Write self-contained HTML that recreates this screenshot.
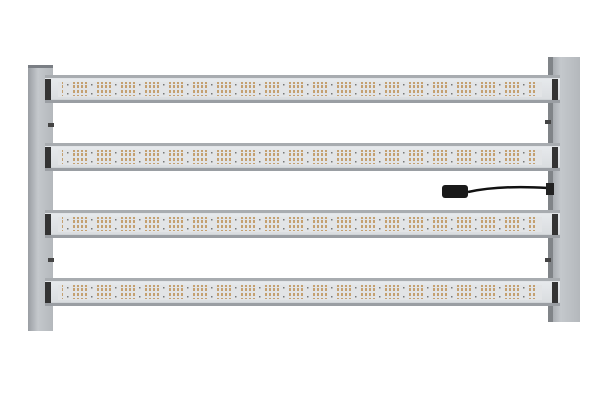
<!DOCTYPE html>
<html><head><meta charset="utf-8"><style>html,body{margin:0;padding:0;background:#fff;width:600px;height:400px;overflow:hidden}</style></head>
<body>
<svg width="600" height="400" viewBox="0 0 600 400" xmlns="http://www.w3.org/2000/svg">
<defs>
<pattern id="led" x="0" y="0" width="24" height="14" patternUnits="userSpaceOnUse">
<g fill="#c4a070">
<rect x="1" y="1" width="2" height="3"/><rect x="1" y="6" width="2" height="3"/><rect x="1" y="10" width="2" height="3"/>
<rect x="5" y="1" width="2" height="3"/><rect x="5" y="6" width="2" height="3"/><rect x="5" y="10" width="2" height="3"/>
<rect x="9" y="1" width="2" height="3"/><rect x="9" y="6" width="2" height="3"/><rect x="9" y="10" width="2" height="3"/>
<rect x="13" y="1" width="2" height="3"/><rect x="13" y="6" width="2" height="3"/><rect x="13" y="10" width="2" height="3"/>
</g>
<rect x="19" y="4" width="1.5" height="1.5" fill="#777"/><rect x="19" y="9" width="1.5" height="1.5" fill="#777"/>
</pattern>
<linearGradient id="bar" x1="0" y1="0" x2="0" y2="1">
<stop offset="0" stop-color="#c8ccd0"/><stop offset="0.15" stop-color="#e6e9ec"/>
<stop offset="0.85" stop-color="#dadde0"/><stop offset="1" stop-color="#a0a5aa"/>
</linearGradient>
<linearGradient id="rail" x1="0" y1="0" x2="1" y2="0">
<stop offset="0" stop-color="#9a9ea3"/><stop offset="0.4" stop-color="#c4c8cc"/><stop offset="1" stop-color="#b4b8bc"/>
</linearGradient>
<g id="b">
<rect x="45" y="0" width="515" height="28" fill="url(#bar)"/>
<rect x="45" y="0" width="515" height="3" fill="#a8acb0"/>
<rect x="45" y="25" width="515" height="3" fill="#9a9ea3"/>
<rect x="45" y="4" width="6" height="21" fill="#333"/>
<rect x="552" y="4" width="6" height="21" fill="#333"/>
<rect x="58" y="7" width="484" height="15" fill="#e2e4e6"/>
<rect x="62" y="7" width="474" height="14" fill="url(#led)"/>
</g>
</defs>
<rect width="600" height="400" fill="#fff"/>
<rect x="28" y="65" width="25" height="266" fill="url(#rail)"/>
<rect x="28" y="65" width="25" height="3" fill="#7a7e84"/>
<rect x="548" y="57" width="32" height="265" fill="url(#rail)"/>
<rect x="548" y="57" width="5" height="265" fill="#808488"/>
<use href="#b" y="75"/>
<use href="#b" y="143"/>
<use href="#b" y="210"/>
<use href="#b" y="278"/>
<rect x="48" y="123" width="6" height="4" fill="#444"/>
<rect x="48" y="258" width="6" height="4" fill="#444"/>
<rect x="545" y="120" width="6" height="4" fill="#444"/>
<rect x="545" y="258" width="6" height="4" fill="#444"/>
<path d="M468 192 Q500 185 548 188" stroke="#111" stroke-width="2.5" fill="none"/>
<rect x="442" y="185" width="26" height="13" rx="3" fill="#1a1a1a"/>
<rect x="546" y="183" width="8" height="12" fill="#222"/>
</svg>
</body></html>
